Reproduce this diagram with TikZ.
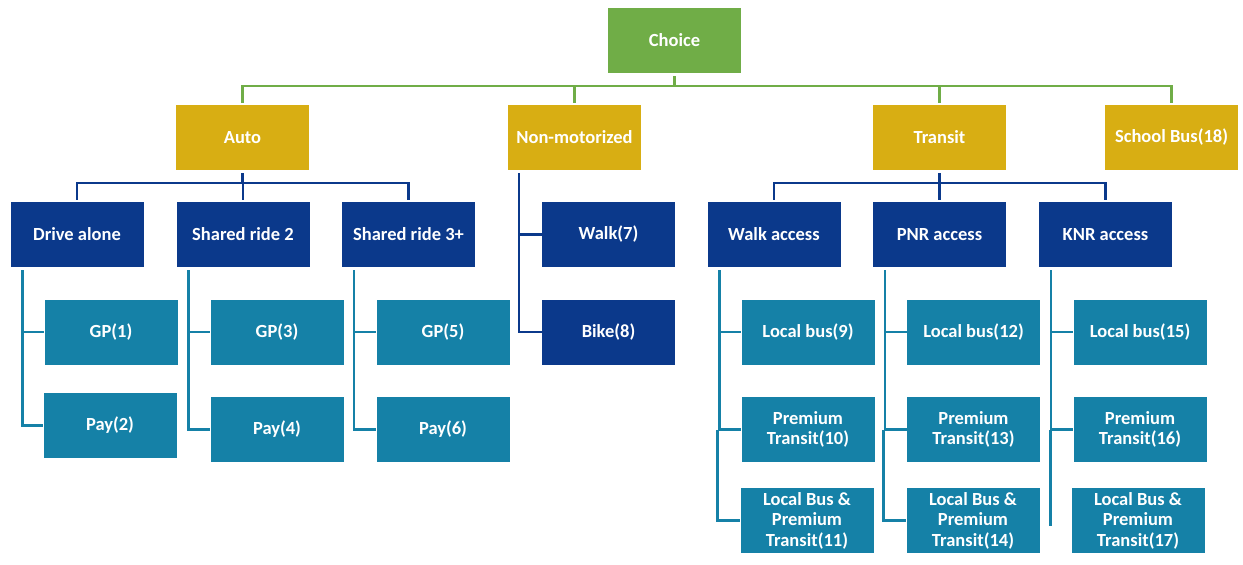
\documentclass[tikz,border=0pt]{standalone}
\usepackage{fontspec}
\setmainfont{Carlito}
\definecolor{vert}{HTML}{70AD47}
\definecolor{or}{HTML}{D8AE13}
\definecolor{bleu}{HTML}{0B398B}
\definecolor{cyan}{HTML}{1581A7}
\begin{document}
\begin{tikzpicture}[x=1pt,y=-1pt]
		\tikzstyle{boite}=[minimum width=133pt, minimum height=65pt, inner sep=0pt, text=white, font=\fontsize{18.5}{20.5}\selectfont\bfseries, align=center]
		\tikzstyle{choix}=[boite,fill=vert]
		\tikzstyle{mode}=[boite,fill=or]
		\tikzstyle{sous_mode}=[boite,fill=bleu]
		\tikzstyle{option}=[boite,fill=cyan]
		\tikzstyle{trait_vert}=[draw=vert,line width=2.5pt,shorten <=3pt,shorten >=2pt]
		\tikzstyle{trait_bleu}=[draw=bleu,line width=2.5pt,shorten <=3pt,shorten >=2pt]
		\tikzstyle{trait_cyan}=[draw=cyan,line width=2.5pt,shorten <=3pt]
		\useasboundingbox (0,0) rectangle (1243,565);
		\node[choix] (choice) at (674.5,40.5) {Choice};
		\node[mode] (auto) at (242.5,137.5) {Auto};
		\node[mode] (nonmot) at (574.5,137.5) {Non-motorized};
		\node[mode] (transit) at (939.5,137.5) {Transit};
		\node[mode] (school) at (1171.5,137.5) {School Bus(18)};
		% auto
		\node[sous_mode] (drive) at (77,234.5) {Drive alone};
		\node[sous_mode] (sr2) at (243,234.5) {Shared ride 2};
		\node[sous_mode] (sr3) at (408.5,234.5) {Shared ride 3+};
		\node[option] (gp1) at (111,332) {GP(1)};
		\node[option] (pay2) at (110,425.5) {Pay(2)};
		\node[option] (gp3) at (277,332) {GP(3)};
		\node[option] (pay4) at (277,429.5) {Pay(4)};
		\node[option] (gp5) at (443,332) {GP(5)};
		\node[option] (pay6) at (443,429.5) {Pay(6)};
		% non-motorized
		\node[sous_mode] (walk) at (608.5,234.5) {Walk(7)};
		\node[sous_mode] (bike) at (608.5,332) {Bike(8)};
		% transit
		\node[sous_mode] (walkacc) at (774,234.5) {Walk access};
		\node[sous_mode] (pnr) at (939.5,234.5) {PNR access};
		\node[sous_mode] (knr) at (1105.5,234.5) {KNR access};
		\node[option] (lb9) at (808,332) {Local bus(9)};
		\node[option] (pt10) at (808,429.5) {Premium\\Transit(10)};
		\node[option] (lbpt11) at (807,520.5) {Local Bus \&\\Premium\\Transit(11)};
		\node[option] (lb12) at (973.5,332) {Local bus(12)};
		\node[option] (pt13) at (973.5,429.5) {Premium\\Transit(13)};
		\node[option] (lbpt14) at (973,520.5) {Local Bus \&\\Premium\\Transit(14)};
		\node[option] (lb15) at (1140,332) {Local bus(15)};
		\node[option] (pt16) at (1140,429.5) {Premium\\Transit(16)};
		\node[option] (lbpt17) at (1138,520.5) {Local Bus \&\\Premium\\Transit(17)};
		% liens
		\foreach \n in {auto,nonmot,transit,school}
			\draw[trait_vert] (choice.south) -- ++(0,13) -| (\n.north);
		\foreach \n in {drive,sr2,sr3}
			\draw[trait_bleu] (auto.south) -- ++(0,13) -| (\n.north);
		\foreach \n in {walkacc,pnr,knr}
			\draw[trait_bleu] (transit.south) -- ++(0,13) -| (\n.north);
		\path (nonmot.south west) ++(11,0) coordinate (xnm);
		\draw[trait_bleu,shorten >=0pt] (xnm) |- (walk.west);
		\draw[trait_bleu,shorten >=0pt] (xnm) |- (bike.west);
		\foreach \p/\a/\b in {drive/gp1/pay2,sr2/gp3/pay4,sr3/gp5/pay6,walkacc/lb9/pt10,pnr/lb12/pt13,knr/lb15/pt16} {
			\path (\p.south west) ++(12,0) coordinate (x\p);
			\draw[trait_cyan] (x\p) |- (\a.west);
			\draw[trait_cyan] (x\p) |- (\b.west);
		}
		\draw[trait_cyan,line width=3.2pt,shorten <=0pt] ([xshift=-1.5pt]xwalkacc |- pt10.west) |- (lbpt11.west);
		\draw[trait_cyan,line width=3.2pt,shorten <=0pt] ([xshift=-1.5pt]xpnr |- pt13.west) |- (lbpt14.west);
		\draw[trait_cyan,line width=3.2pt,shorten <=0pt] (xknr |- pt16.west) -- ([yshift=-5pt]xknr |- lbpt17.west);
	\end{tikzpicture}
\end{document}
